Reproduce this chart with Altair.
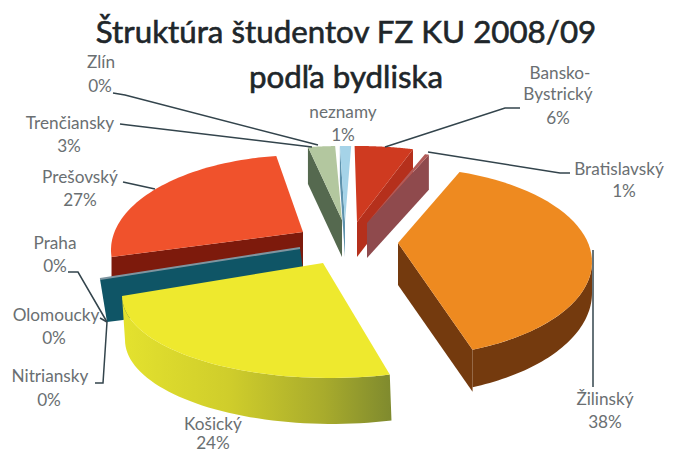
import math
import altair as alt
import pandas as pd

# ---- chart values -------------------------------------------------------
title_lines = ["Štruktúra študentov FZ KU 2008/09", "podľa bydliska"]
categories = ["Bansko-Bystrický", "Bratislavský", "Žilinský", "Košický", "Nitriansky",
              "Olomoucky", "Praha", "Prešovský", "Trenčiansky", "Zlín", "neznamy"]
shares = [6, 1, 38, 24, 0, 0, 0, 27, 3, 0, 1]

# ---- 3-D slice geometry:
#      apex x, y, ellipse centre x, y, rx, ry, start/end view angle (deg clockwise from top)
slices = {
    "Prešovský":   (303, 232, 303, 250, 192, 95, 265.8, 352),
    "Trenčiansky": (342, 220, 342, 220, 196, 74, -10, -2),
    "neznamy":     (345, 222, 345, 222, 196, 76, -1.5, 1.8),
    "Bansko-Bystrický": (357, 222, 357, 222, 196, 76, -0.7, 16.6),
    "Bratislavský": (367, 223, 367, 223, 196, 72, 17.2, 18.4),
    "Žilinský":    (398, 243, 398, 262, 194, 95, 18.5, 157.4),
    "Košický":     (323, 263, 330, 296, 208, 82, 270, 163.3),
}
depth = {"Prešovský": 46, "Trenčiansky": 37, "neznamy": 35, "Bansko-Bystrický": 35,
         "Bratislavský": 35, "Žilinský": 42}
# lower rim of the two big slices: centre x, y, rx, ry
lower_rim = {"Žilinský": (398, 293, 194, 102), "Košický": (332, 340, 207, 84)}

top_colors = {"Prešovský": "#f0522c", "Trenčiansky": "#b3c79f", "neznamy": "#a5d3e8",
              "Bansko-Bystrický": "#cf3a20", "Bratislavský": "#b25b58",
              "Žilinský": "#ee8a20", "Košický": "#eee92e"}
side_colors = {"Prešovský": "#7d1a0c", "Trenčiansky": "#55694f", "neznamy": "#5f93ad",
               "Bansko-Bystrický": "#b5301c", "Bratislavský": "#8f4a4d",
               "Žilinský": "#743a0e"}

teal_x = [100, 300, 303, 123, 107]
teal_y = [279, 248, 270, 320, 322]
teal_edge_x = [100, 300]
teal_edge_y = [279, 248]

# label texts and their positions
label_text = ["Zlín", "0%", "Trenčiansky", "3%", "Prešovský", "27%", "Praha", "0%",
              "Olomoucky", "0%", "Nitriansky", "0%", "Košický", "24%", "Žilinský", "38%",
              "Bratislavský", "1%", "Bansko-", "Bystrický", "6%", "neznamy", "1%"]
label_x = [101, 100, 70, 69, 80, 80, 55, 55, 56, 54, 50, 49, 213, 213, 605, 605, 619, 624,
           560, 558, 558, 343, 343]
label_y = [63, 87, 124, 147, 178, 201, 244, 267, 316, 339, 377, 401, 425, 444, 400, 423,
           170, 192, 74, 95, 119, 113, 136]

leaders = {
    "Zlín": ([113, 125, 318], [93, 95, 145]),
    "Trenčiansky": ([120, 128, 312], [124, 125, 147]),
    "Prešovský": ([123, 155], [182, 189]),
    "Praha": ([68, 78, 107], [272, 272, 322]),
    "Olomoucky": ([100, 107], [318, 322]),
    "Nitriansky": ([95, 103, 107], [383, 383, 322]),
    "Žilinský": ([593, 593], [250, 387]),
    "Bratislavský": ([428, 560, 570], [152, 173, 173]),
    "Bansko": ([385, 505, 520], [147, 108, 108]),
}

X = alt.X("x:Q", scale=alt.Scale(domain=[8, 665]), axis=None)
Y = alt.Y("y:Q", scale=alt.Scale(domain=[456, 8]), axis=None)


def ell(cx, cy, rx, ry, a1, a2, dy=0, n=48):
    pts = []
    for i in range(n + 1):
        a = math.radians(a1 + (a2 - a1) * i / n)
        pts.append((cx + rx * math.sin(a), cy + dy - ry * math.cos(a)))
    return pts


def poly(pts, fill):
    df = pd.DataFrame({"x": [p[0] for p in pts], "y": [p[1] for p in pts], "i": range(len(pts))})
    return alt.Chart(df).mark_line(fill=fill, strokeWidth=0, interpolate="linear").encode(
        x=X, y=Y, order="i:Q")


layers = []


def draw_slice(name, radial=None):
    ax, ay, cx, cy, rx, ry, a1, a2 = slices[name]
    if radial is not None:
        d = depth[name]
        e = ell(cx, cy, rx, ry, radial, radial, n=1)[0]
        layers.append(poly([(ax, ay), e, (e[0], e[1] + d), (ax, ay + d)], side_colors[name]))
    layers.append(poly([(ax, ay)] + ell(cx, cy, rx, ry, a1, a2), top_colors[name]))


draw_slice("Prešovský", radial=265.8)
layers.append(poly(list(zip(teal_x, teal_y)), "#0f5566"))
layers.append(alt.Chart(pd.DataFrame({"x": teal_edge_x, "y": teal_edge_y})).mark_line(
    color="#7f95a0", strokeWidth=2).encode(x=X, y=Y))
draw_slice("Trenčiansky", radial=-10)
draw_slice("neznamy", radial=-1.5)
draw_slice("Bansko-Bystrický", radial=16.6)
draw_slice("Bratislavský", radial=18.4)

# Žilinský: outer rim, then radial face and top
s = slices["Žilinský"]
r = lower_rim["Žilinský"]
layers.append(poly(ell(s[2], s[3], s[4], s[5], 90, 157.4) + ell(r[0], r[1], r[2], r[3], 90, 157.4)[::-1],
                   side_colors["Žilinský"]))
draw_slice("Žilinský", radial=157.4)

# Košický: olive rim with a shaded fill
olive = alt.Gradient(gradient="linear", x1=0, x2=1, y1=0, y2=0, stops=[
    alt.GradientStop(color="#e4e22e", offset=0),
    alt.GradientStop(color="#cfcd2b", offset=0.4),
    alt.GradientStop(color="#a8ab2c", offset=0.75),
    alt.GradientStop(color="#7f8a2e", offset=1)])
s = slices["Košický"]
r = lower_rim["Košický"]
layers.append(poly(ell(s[2], s[3], s[4], s[5], 270, 163.3) + ell(r[0], r[1], r[2], r[3], 163.3, 270), olive))
draw_slice("Košický")

for name, (lx, ly) in leaders.items():
    df = pd.DataFrame({"x": lx, "y": ly, "i": range(len(lx))})
    layers.append(alt.Chart(df).mark_line(color="#33444c", strokeWidth=1.5).encode(x=X, y=Y, order="i:Q"))

labels = pd.DataFrame({"x": label_x, "y": label_y, "t": label_text})
layers.append(alt.Chart(labels).mark_text(font="Lato", fontSize=17.2, color="#6a6f72").encode(x=X, y=Y, text="t:N"))
titles = pd.DataFrame({"x": [346, 346], "y": [34, 79], "t": title_lines})
layers.append(alt.Chart(titles).mark_text(font="Lato", fontSize=31.3, color="#20262a", stroke="#20262a",
                                          strokeWidth=0.6).encode(x=X, y=Y, text="t:N"))

chart = alt.layer(*layers).properties(
    width=657, height=448, padding=0, autosize=alt.AutoSizeParams(type="none"),
    background="#ffffff",
).configure_view(stroke=None)

chart.save("out.html", embed_options={"renderer": "svg", "actions": False})
